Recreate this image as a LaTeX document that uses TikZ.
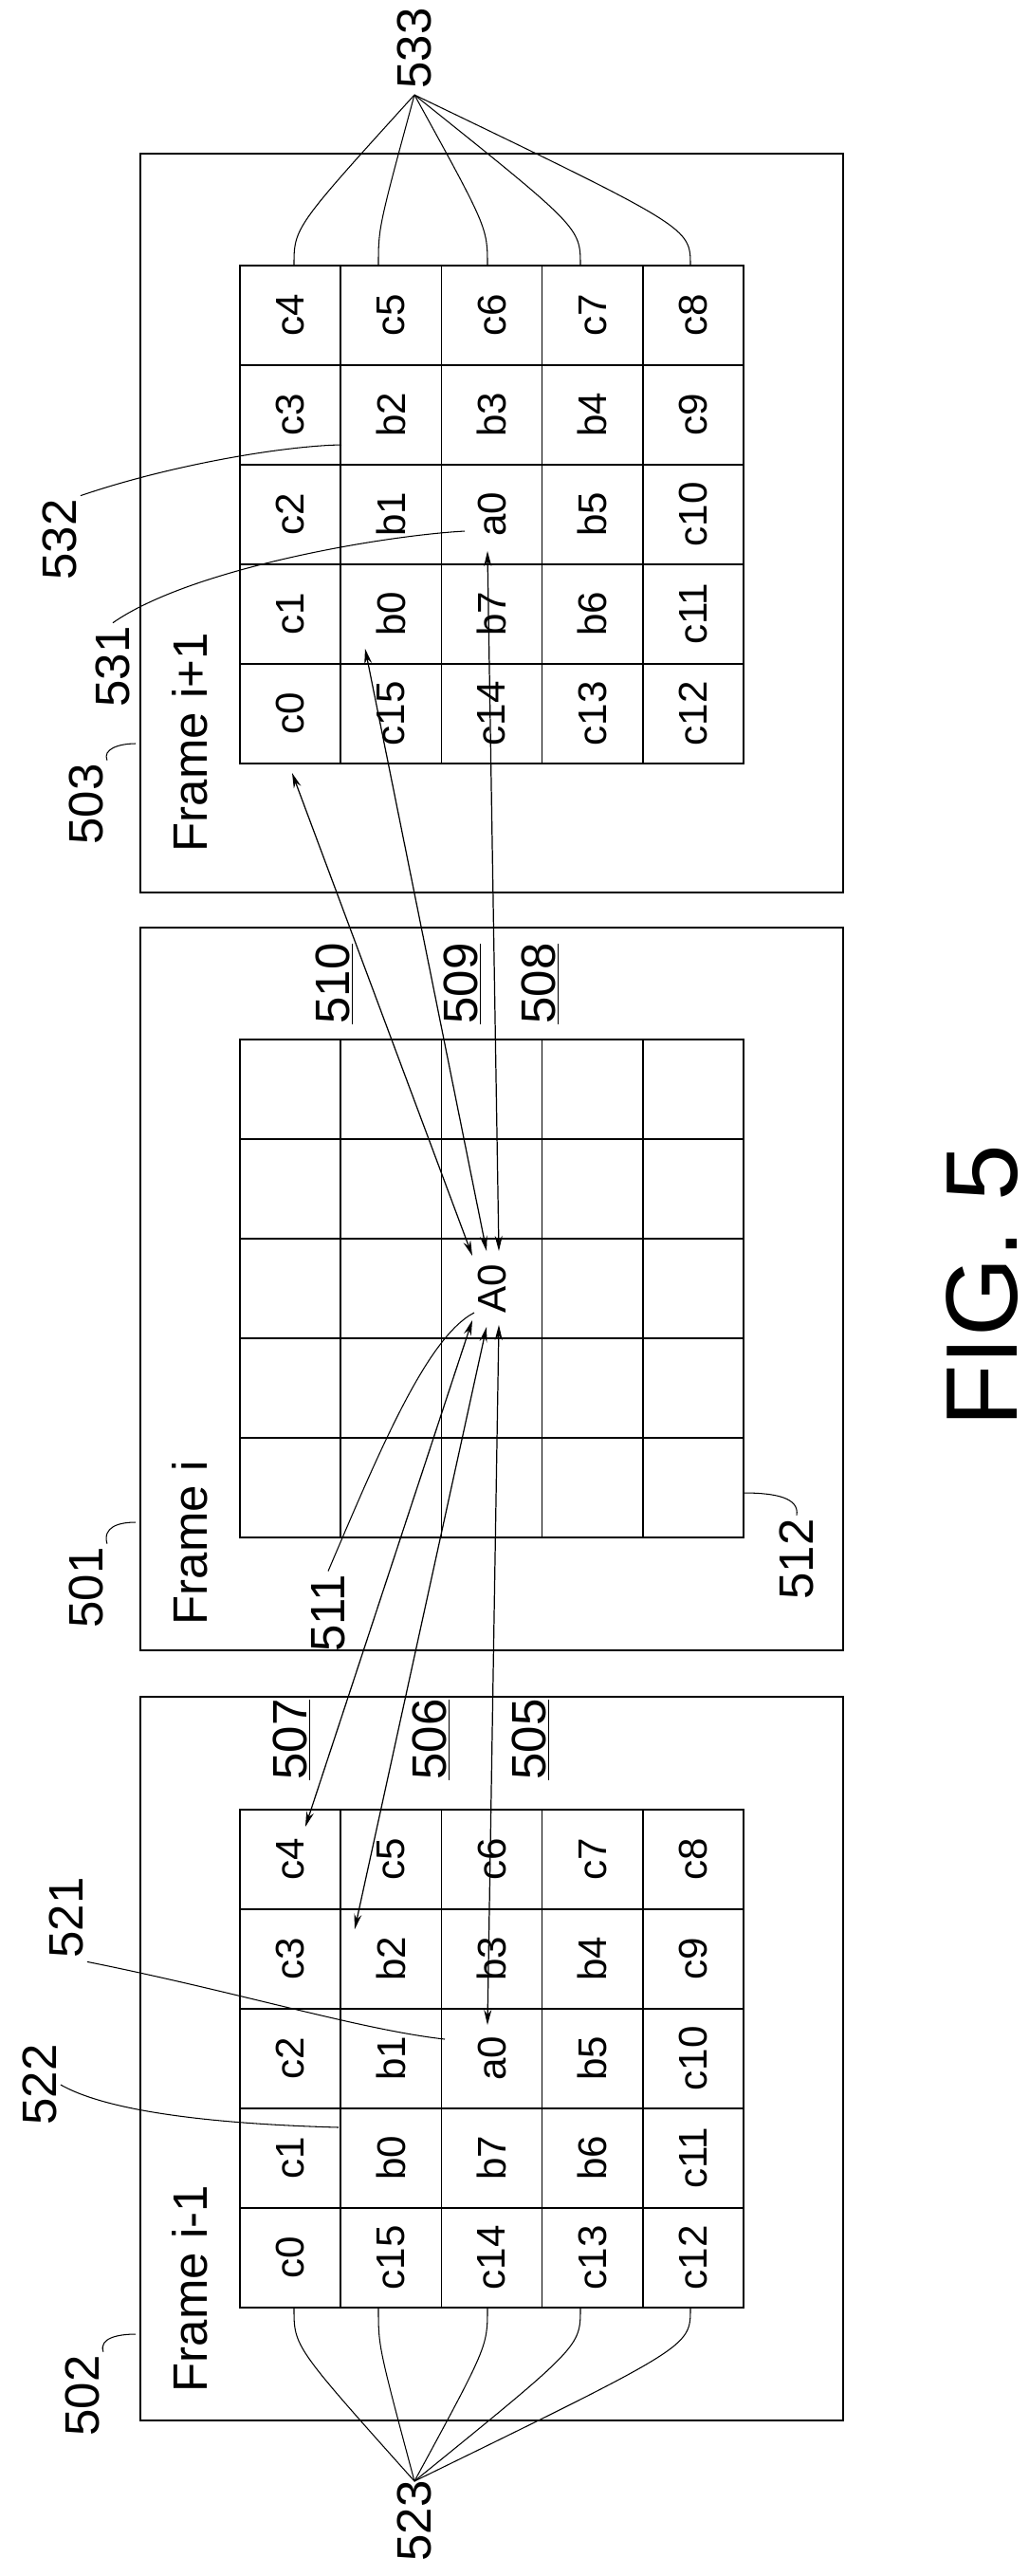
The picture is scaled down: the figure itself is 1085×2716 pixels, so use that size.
\documentclass[tikz,border=0pt]{standalone}
\usepackage{fontspec}
\setmainfont{Liberation Sans}
\usetikzlibrary{calc,positioning,arrows.meta}
\tikzset{cell/.style={draw,line width=0.8pt,rotate=90,minimum width=2.1cm,minimum height=2.124cm,inner sep=0pt,font=\fontsize{24}{28}\selectfont},
ref/.style={rotate=90,inner sep=2pt,font=\fontsize{29}{34}\selectfont},
lead/.style={line width=0.6pt},
mv/.style={line width=0.7pt,{Stealth[length=0.32cm,width=0.16cm]}-{Stealth[length=0.32cm,width=0.16cm]}}}

\begin{document}
\begin{tikzpicture}[x=0.02cm,y=-0.02cm]
\useasboundingbox (0,0) rectangle (1085,2716);

%Frames
 \draw[line width=1.1pt] (148,162) rectangle (889,941);
 \draw[line width=1.1pt] (148,978) rectangle (889,1740);
 \draw[line width=1.1pt] (148,1789) rectangle (889,2552);

%Grids of frame i+1 and frame i-1
 \foreach \row [count=\j] in {{c4,c5,c6,c7,c8},{c3,b2,b3,b4,c9},{c2,b1,a0,b5,c10},{c1,b0,b7,b6,c11},{c0,c15,c14,c13,c12}}
 {\foreach \lab [count=\i] in \row
  {\node[cell] (N-\lab) at (253+106.2*\i-53.1,280+105*\j-52.5) {\lab};
   \node[cell] (P-\lab) at (253+106.2*\i-53.1,1908+105*\j-52.5) {\lab};}}

%Grid of frame i
 \foreach \i in {1,...,5}
 \foreach \j in {1,...,5}
  {\node[cell] (C-\i-\j) at (253+106.2*\i-53.1,1096+105*\j-52.5) {};}
 \node[rotate=90,font=\fontsize{24}{28}\selectfont] (A0) at (C-3-3) {A0};

%Texts
 \node[ref,anchor=west] (FrameNext) at (200,902) {Frame i+1};
 \node[ref,anchor=west] (FrameCur) at (200,1717) {Frame i};
 \node[ref,anchor=west] (FramePrev) at (200,2526) {Frame i-1};
 \node[ref] (L533) at (437,51) {533};
 \node[ref] (L532) at (63,569) {532};
 \node[ref] (L531) at (119,703) {531};
 \node[ref] (L503) at (91,848) {503};
 \node[ref] (L510) at (353,1037) {\underline{510}};
 \node[ref] (L509) at (488,1037) {\underline{509}};
 \node[ref] (L508) at (570,1037) {\underline{508}};
 \node[ref] (L512) at (840,1644) {512};
 \node[ref] (L501) at (91,1674) {501};
 \node[ref] (L511) at (346,1701) {511};
 \node[ref] (L507) at (308,1834) {\underline{507}};
 \node[ref] (L506) at (455,1834) {\underline{506}};
 \node[ref] (L505) at (560,1834) {\underline{505}};
 \node[ref] (L521) at (70,2022) {521};
 \node[ref] (L522) at (42,2198) {522};
 \node[ref] (L502) at (87,2526) {502};
 \node[ref] (L523) at (437,2658) {523};
 \node[rotate=90,font=\fontsize{61}{70}\selectfont] (Fig) at (1036,1356) {FIG. 5};

%Arrow ends
 \coordinate (N-c0-tip) at (308,815);
 \coordinate (N-b0-tip) at (385,684);
 \coordinate (N-a0-tip) at (514,581);
 \coordinate (A0-n1) at (498,1324);
 \coordinate (A0-n2) at (513,1319);
 \coordinate (A0-n3) at (526,1319);
 \coordinate (A0-p1) at (498,1392);
 \coordinate (A0-p2) at (513,1399);
 \coordinate (A0-p3) at (526,1397);
 \coordinate (P-c4-tip) at (322,1926);
 \coordinate (P-b2-tip) at (374,2034);
 \coordinate (P-a0-tip) at (514,2135);

 \draw[mv] (N-c0-tip) -- (A0-n1);
 \draw[mv] (N-b0-tip) -- (A0-n2);
 \draw[mv] (N-a0-tip) -- (A0-n3);
 \draw[mv] (A0-p1) -- (P-c4-tip);
 \draw[mv] (A0-p2) -- (P-b2-tip);
 \draw[mv] (A0-p3) -- (P-a0-tip);

%Leaders
 \coordinate (H533) at (437,100);
 \coordinate (H523) at (437,2616);
 \foreach \lab/\x in {c4/310,c5/399,c6/514,c7/612,c8/728}
  {\coordinate (N-\lab-top) at (\x,280);
   \draw[lead] (N-\lab-top) .. controls ($(N-\lab-top)+(0,-40)$) .. (H533);}
 \foreach \lab/\x in {c0/310,c15/399,c14/514,c13/612,c12/728}
  {\coordinate (P-\lab-bot) at (\x,2434);
   \draw[lead] (P-\lab-bot) .. controls ($(P-\lab-bot)+(0,40)$) .. (H523);}

 \coordinate (T532) at (360,469);
 \coordinate (T531) at (490,560);
 \coordinate (T503) at (143,784);
 \coordinate (T501) at (143,1605);
 \coordinate (T502) at (143,2461);
 \coordinate (T512) at (784,1574);
 \coordinate (T511) at (500,1384);
 \coordinate (T521) at (469,2150);
 \coordinate (T522) at (357,2243);
 \draw[lead] (L532.south east) .. controls (180,490) and (300,470) .. (T532);
 \draw[lead] (L531.east) .. controls (200,600) and (400,565) .. (T531);
 \draw[lead] (L503.south east) .. controls (108,790) and (125,784) .. (T503);
 \draw[lead] (L501.south east) .. controls (108,1610) and (125,1605) .. (T501);
 \draw[lead] (L502.south east) .. controls (104,2465) and (125,2461) .. (T502);
 \draw[lead] (L512.east) .. controls (843,1580) and (820,1574) .. (T512);
 \draw[lead] (L511.east) .. controls (400,1530) and (450,1410) .. (T511);
 \draw[lead] (L521.south west) .. controls (250,2100) and (380,2140) .. (T521);
 \draw[lead] (L522.south) .. controls (120,2230) and (250,2240) .. (T522);

\end{tikzpicture}
\end{document}
